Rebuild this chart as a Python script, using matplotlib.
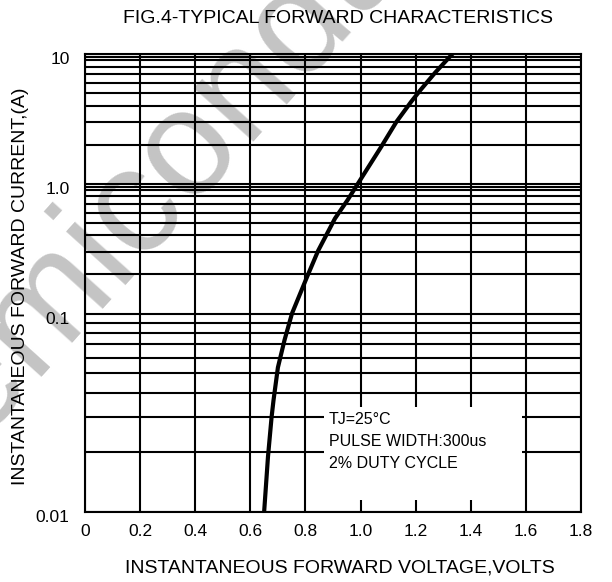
import numpy as np
import matplotlib
matplotlib.use("Agg")
import matplotlib.pyplot as plt
import matplotlib.transforms as mtransforms
from matplotlib.patches import Rectangle

plt.rcParams['font.family'] = ['Liberation Sans', 'DejaVu Sans']

# curve (volts, amps)
forward_voltage = [0.650, 0.664, 0.677, 0.684, 0.700, 0.724, 0.751, 0.805,
                   0.846, 0.907, 0.953, 0.990, 1.073, 1.130, 1.184, 1.218,
                   1.271, 1.333]
forward_current = [0.01, 0.019, 0.030, 0.0365, 0.0535, 0.0735, 0.1, 0.19,
                   0.305, 0.54, 0.75, 1.0, 1.9, 3.0, 4.3, 5.3,
                   7.2, 10.0]

x_ticks = [0, 0.2, 0.4, 0.6, 0.8, 1.0, 1.2, 1.4, 1.6, 1.8]
x_labels = ["0", "0.2", "0.4", "0.6", "0.8", "1.0", "1.2", "1.4", "1.6", "1.8"]
y_ticks = [0.01, 0.1, 1.0, 10.0]
y_labels = ["0.01", "0.1", "1.0", "10"]
# log grid of the chart, with the extra line drawn just under each decade top
y_minor = [m * d for d in (0.01, 0.1, 1.0) for m in (2, 3, 4, 5, 6, 7, 8, 9)] + [0.95, 9.5]

note_lines = ["TJ=25\u00b0C", "PULSE WIDTH:300us", "2% DUTY CYCLE"]

# the bottom decade of the printed chart is taller than the other two
BOTTOM_STRETCH = 198 / 129.5


def fwd(y):
    u = np.log10(np.clip(y, 1e-6, None)) + 1
    return np.where(u < 0, u * BOTTOM_STRETCH, u)


def inv(t):
    return 10 ** (np.where(t < 0, t / BOTTOM_STRETCH, t) - 1)


fig = plt.figure(figsize=(6.12, 5.82), dpi=100)
ax = fig.add_axes([0.1389, 0.1203, 0.8105, 0.7869])
ax.set_facecolor('none')

ax.set_yscale('function', functions=(fwd, inv))
ax.set_xlim(0, 1.8)
ax.set_ylim(0.01, 10)

ax.set_xticks(x_ticks)
ax.set_xticklabels(x_labels)
ax.set_yticks(y_ticks)
ax.set_yticklabels(y_labels)
ax.set_yticks(y_minor, minor=True)
ax.yaxis.set_minor_formatter(matplotlib.ticker.NullFormatter())
ax.set_xticks([], minor=True)

ax.tick_params(axis='both', which='both', length=0, labelsize=12.5, colors='black')
ax.tick_params(axis='x', pad=9)
ax.tick_params(axis='y', pad=11)
ax.set_axisbelow(True)
ax.grid(True, which='both', color='black', linewidth=1.5)
for sp in ax.spines.values():
    sp.set_linewidth(1.5)
    sp.set_color('black')

offset = mtransforms.ScaledTranslation(0, -4 / 100, fig.dpi_scale_trans)
for lab in ax.get_yticklabels():
    lab.set_transform(lab.get_transform() + offset)

# white note box that cuts the grid
ax.add_patch(Rectangle((0.482, 0.026), 0.399, 0.203, transform=ax.transAxes,
                       facecolor='white', edgecolor='none', zorder=1))
for i, line in enumerate(note_lines):
    ax.text(0.492, 0.201 - i * 0.048, line, transform=ax.transAxes,
            fontsize=11.5, ha='left', va='center', zorder=4)

ax.plot(forward_voltage, forward_current, color='black', linewidth=3,
        solid_joinstyle='round', zorder=3)

fig.text(0.552, 0.968, "FIG.4-TYPICAL FORWARD CHARACTERISTICS",
         fontsize=14, ha='center', va='center')
fig.text(0.556, 0.024, "INSTANTANEOUS FORWARD VOLTAGE,VOLTS",
         fontsize=14, ha='center', va='center')
fig.text(0.034, 0.509, "INSTANTANEOUS FORWARD CURRENT,(A)",
         fontsize=14, ha='center', va='center', rotation=90)

# faint watermark behind the chart
fig.text(216 / 612, 1 - 118 / 582, "Semiconductor", fontsize=108, color='#c4c4c4',
         rotation=48, ha='center', va='center', rotation_mode='anchor', zorder=-1)

fig.savefig("out.png", dpi=100)
plt.close(fig)
